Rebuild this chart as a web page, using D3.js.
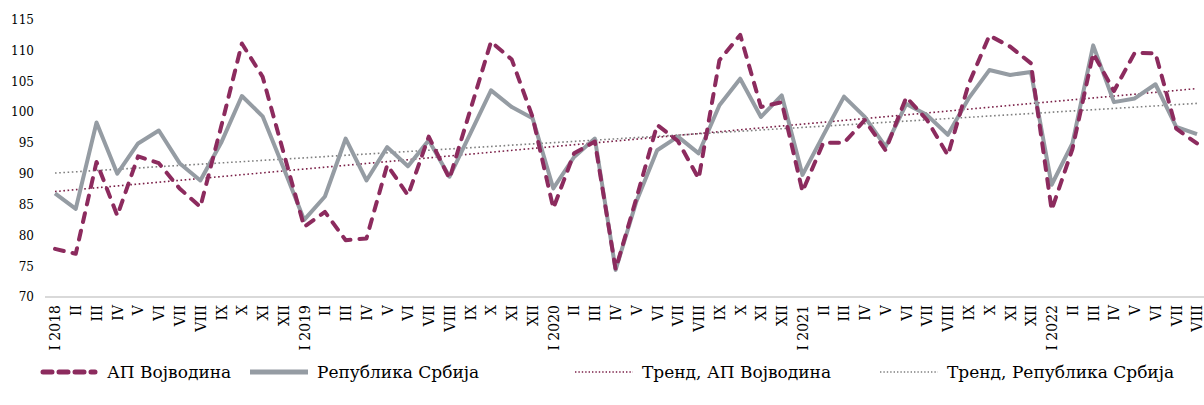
<!DOCTYPE html>
<html>
<head>
<meta charset="utf-8">
<script src="https://cdn.jsdelivr.net/npm/d3@7"></script>
<style>
  body { margin: 0; background: #fff; }
  text { font-family: "DejaVu Serif", serif; fill: #000; }
</style>
</head>
<body>
<div id="chart"></div>
<script>
// ---------------------------//
//           DATA             //
// ---------------------------//

const years = [2018, 2019, 2020, 2021, 2022];
const months = ["I", "II", "III", "IV", "V", "VI", "VII", "VIII", "IX", "X", "XI", "XII"];

// АП Војводина, I 2018 - VIII 2022
const vojvodina = [
  77.8, 77.0, 91.9, 83.2, 92.8, 91.7, 87.6, 84.6, 97.6, 111.1, 105.7, 93.5,
  81.4, 83.8, 79.2, 79.5, 91.4, 86.5, 96.0, 89.2, 100.3, 111.4, 108.5, 99.2,
  84.4, 93.3, 95.2, 74.5, 86.0, 97.9, 95.3, 89.2, 108.4, 112.5, 100.8, 101.6,
  87.1, 95.0, 95.0, 98.7, 93.8, 102.4, 98.7, 93.0, 104.5, 112.4, 110.6, 107.9,
  84.1, 94.0, 109.5, 103.4, 109.6, 109.5, 97.3, 94.9
];

// Република Србија
const srbija = [
  86.8, 84.3, 98.3, 90.0, 94.9, 97.0, 91.7, 88.9, 95.0, 102.6, 99.3, 91.0,
  82.5, 86.3, 95.7, 88.9, 94.3, 91.2, 95.4, 89.5, 96.5, 103.5, 100.8, 99.0,
  87.6, 92.7, 95.7, 74.4, 85.5, 93.8, 96.0, 93.3, 101.1, 105.4, 99.2, 102.7,
  89.8, 96.2, 102.5, 99.2, 94.4, 101.3, 99.5, 96.3, 102.2, 106.8, 106.0, 106.5,
  88.2, 94.9, 110.8, 101.6, 102.2, 104.5, 97.6, 96.4
];

// trend values at the first and last month
const trendVojvodina = [87.1, 103.8];
const trendSrbija = [90.1, 101.4];

const yTicks = [70, 75, 80, 85, 90, 95, 100, 105, 110, 115];

const legendNames = ["АП Војводина", "Република Србија", "Тренд, АП Војводина", "Тренд, Република Србија"];

// category labels: "I 2018", "II", ... "VIII"
const labels = [];
years.forEach(yr => months.forEach((m, i) => {
  if (labels.length < vojvodina.length) labels.push(i === 0 ? `I ${yr}` : m);
}));

// ---------------------------//
//       SET  CANVAS          //
// ---------------------------//

const W = 1204, H = 405;
const svg = d3.select("#chart").append("svg")
  .attr("width", W)
  .attr("height", H);

const maroon = "#8c2b5e", gray = "#959ca3";

const x = d3.scalePoint()
  .domain(d3.range(labels.length))
  .range([55, 1197]);

const y = d3.scaleLinear()
  .domain([70, 115])
  .range([297, 19.5]);

// y labels (no axis line)
const yAxis = svg.append("g")
  .attr("transform", "translate(34,0)")
  .call(d3.axisLeft(y).tickValues(yTicks).tickSize(0).tickPadding(0));
yAxis.select(".domain").remove();
yAxis.selectAll("text")
  .style("font-family", "DejaVu Serif")
  .style("font-size", "12px")
  .attr("fill", "#000");

// baseline
svg.append("line")
  .attr("x1", 45).attr("x2", W)
  .attr("y1", y(70)).attr("y2", y(70))
  .attr("stroke", "#d9d9d9")
  .attr("stroke-width", 2);

// x labels rotated
const xAxis = svg.append("g")
  .attr("transform", `translate(0,${y(70)})`)
  .call(d3.axisBottom(x).tickSize(0).tickFormat(i => labels[i]));
xAxis.select(".domain").remove();
xAxis.selectAll("text")
  .style("font-family", "DejaVu Serif")
  .style("font-size", "14px")
  .attr("fill", "#000")
  .attr("text-anchor", "end")
  .attr("transform", "translate(0,8) rotate(-90)")
  .attr("x", 0)
  .attr("y", 0)
  .attr("dy", "0.35em");

// ---------------------------//
//        TREND LINES         //
// ---------------------------//

const ends = [0, labels.length - 1];
const trendLine = d3.line().x((d, i) => x(ends[i])).y(d => y(d));

svg.append("path")
  .attr("d", trendLine(trendSrbija))
  .attr("fill", "none")
  .attr("stroke", "#7f7f7f")
  .attr("stroke-width", 1.6)
  .attr("stroke-dasharray", "1.6,2.6");

svg.append("path")
  .attr("d", trendLine(trendVojvodina))
  .attr("fill", "none")
  .attr("stroke", "#7a1f47")
  .attr("stroke-width", 1.6)
  .attr("stroke-dasharray", "1.6,2.6");

// ---------------------------//
//         SERIES             //
// ---------------------------//

const line = d3.line().x((d, i) => x(i)).y(d => y(d));

svg.append("path")
  .attr("d", line(srbija))
  .attr("fill", "none")
  .attr("stroke", gray)
  .attr("stroke-width", 4)
  .attr("stroke-linejoin", "round");

svg.append("path")
  .attr("d", line(vojvodina))
  .attr("fill", "none")
  .attr("stroke", maroon)
  .attr("stroke-width", 4)
  .attr("stroke-linecap", "round")
  .attr("stroke-linejoin", "round")
  .attr("stroke-dasharray", "9,9");

// ---------------------------//
//          LEGEND            //
// ---------------------------//

const legendX = [40, 250, 575, 880];
const legendStyle = [
  {stroke: maroon, width: 5, dash: "9,7", cap: "round"},
  {stroke: gray, width: 5, dash: null, cap: "butt"},
  {stroke: "#7a1f47", width: 1.4, dash: "1.4,2", cap: "butt"},
  {stroke: "#7f7f7f", width: 1.4, dash: "1.4,2", cap: "butt"}
];
const legendY = 372;

const lg = svg.selectAll(".lg")
  .data(legendNames)
  .enter().append("g")
  .attr("transform", (d, i) => `translate(${legendX[i]},${legendY})`);

lg.append("line")
  .attr("x1", (d, i) => i === 0 ? 3 : 0)
  .attr("x2", (d, i) => i === 0 ? 55 : 58)
  .attr("stroke", (d, i) => legendStyle[i].stroke)
  .attr("stroke-width", (d, i) => legendStyle[i].width)
  .attr("stroke-dasharray", (d, i) => legendStyle[i].dash)
  .attr("stroke-linecap", (d, i) => legendStyle[i].cap);

lg.append("text")
  .attr("x", 67)
  .attr("dy", "0.35em")
  .style("font-size", "17px")
  .text(d => d);
</script>
</body>
</html>
